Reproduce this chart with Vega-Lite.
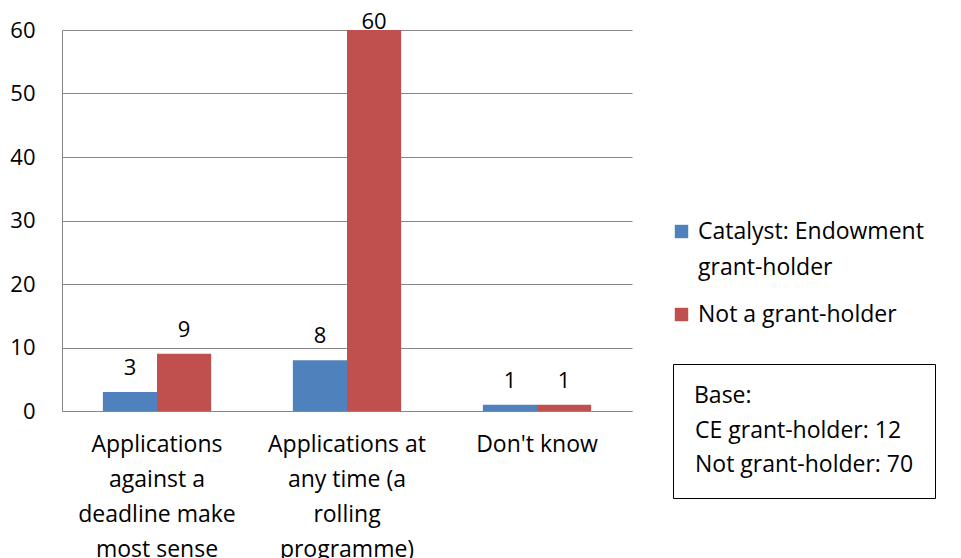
{
  "$schema": "https://vega.github.io/schema/vega-lite/v6.json",
  "width": 570,
  "height": 381,
  "autosize": {"type": "none"},
  "padding": {"left": 62, "top": 30, "right": 329, "bottom": 147},
  "background": "white",
  "config": {
    "font": "Open Sans",
    "view": {"stroke": null},
    "style": {"guide-label": {"lineHeight": 36}},
    "axis": {"labelFont": "Open Sans", "labelFontSize": 22, "labelColor": "black", "titleFont": "Open Sans"},
    "legend": {"labelFont": "Open Sans", "labelFontSize": 23, "labelColor": "black", "titleFont": "Open Sans"}
  },
  "datasets": {
    "main": [
      {"category": "Applications against a deadline make most sense", "group": "Catalyst: Endowment grant-holder", "value": 3},
      {"category": "Applications against a deadline make most sense", "group": "Not a grant-holder", "value": 9},
      {"category": "Applications at any time (a rolling programme)", "group": "Catalyst: Endowment grant-holder", "value": 8},
      {"category": "Applications at any time (a rolling programme)", "group": "Not a grant-holder", "value": 60},
      {"category": "Don't know", "group": "Catalyst: Endowment grant-holder", "value": 1},
      {"category": "Don't know", "group": "Not a grant-holder", "value": 1}
    ],
    "base": [
      {"base": "CE grant-holder: 12"},
      {"base": "Not grant-holder: 70"}
    ]
  },
  "layer": [
    {
      "data": {"name": "main"},
      "mark": {"type": "bar"},
      "encoding": {
        "x": {
          "field": "category", "type": "nominal", "sort": null,
          "scale": {"paddingInner": 0.43, "paddingOuter": 0.215},
          "axis": {
            "title": null, "labelAngle": 0, "tickSize": 0, "labelPadding": 22,
            "labelFontSize": 23,
            "domainColor": "#868686", "labelLineHeight": 35, "labelLimit": 300,
            "labelExpr": "datum.value == 'Applications against a deadline make most sense' ? ['Applications', 'against a', 'deadline make', 'most sense'] : datum.value == 'Applications at any time (a rolling programme)' ? ['Applications at', 'any time (a', 'rolling', 'programme)'] : datum.value"
          }
        },
        "xOffset": {"field": "group", "type": "nominal", "sort": null},
        "y": {
          "field": "value", "type": "quantitative",
          "scale": {"domain": [0, 60], "nice": false},
          "axis": {
            "title": null, "values": [0, 10, 20, 30, 40, 50, 60],
            "tickSize": 0, "labelPadding": 27, "domainColor": "#868686",
            "gridColor": "#868686", "grid": true
          }
        },
        "color": {
          "field": "group", "type": "nominal", "sort": null,
          "scale": {"range": ["#4F81BD", "#C0504D"]},
          "legend": {
            "title": null, "orient": "none", "legendX": 608, "legendY": 190,
            "symbolType": "square", "symbolSize": 180, "symbolStrokeWidth": 0,
            "labelOffset": 5, "labelLimit": 400, "rowPadding": 23, "padding": 0,
            "labelExpr": "datum.label == 'Catalyst: Endowment grant-holder' ? ['Catalyst: Endowment', 'grant-holder'] : datum.label"
          }
        }
      }
    },
    {
      "data": {"name": "main"},
      "transform": [{"filter": "datum.value < 60"}],
      "mark": {"type": "text", "baseline": "alphabetic", "dy": -17, "fontSize": 22, "font": "Open Sans", "color": "black"},
      "encoding": {
        "x": {"field": "category", "type": "nominal", "sort": null},
        "xOffset": {"field": "group", "type": "nominal", "sort": null},
        "y": {"field": "value", "type": "quantitative"},
        "text": {"field": "value", "type": "quantitative"}
      }
    },
    {
      "data": {"name": "main"},
      "transform": [{"filter": "datum.value >= 60"}],
      "mark": {"type": "text", "baseline": "alphabetic", "dy": -1, "fontSize": 22, "font": "Open Sans", "color": "black"},
      "encoding": {
        "x": {"field": "category", "type": "nominal", "sort": null},
        "xOffset": {"field": "group", "type": "nominal", "sort": null},
        "y": {"field": "value", "type": "quantitative"},
        "text": {"field": "value", "type": "quantitative"}
      }
    },
    {
      "data": {"name": "base"},
      "mark": {"type": "point", "filled": true, "opacity": 0},
      "encoding": {
        "shape": {
          "field": "base", "type": "nominal", "sort": null,
          "legend": {
            "title": "Base:", "titleFontSize": 23, "titleFontWeight": "normal", "titleColor": "black",
            "titlePadding": 11,
            "orient": "none", "legendX": 611, "legendY": 334,
            "symbolSize": 0, "symbolOpacity": 0, "symbolStrokeWidth": 0, "labelOffset": -22, "rowPadding": 10,
            "padding": 21, "strokeColor": "black", "labelLimit": 400
          }
        }
      }
    }
  ]
}
